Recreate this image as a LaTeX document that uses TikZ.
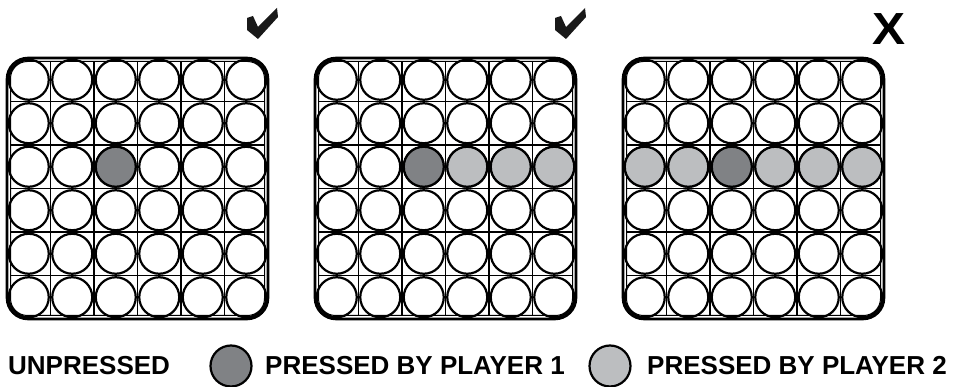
\documentclass[tikz,border=0pt]{standalone}
\usepackage{fontspec}
\setmainfont{Liberation Sans}
\definecolor{pressone}{HTML}{808285}
\definecolor{presstwo}{HTML}{BCBEC0}
\begin{document}
\begin{tikzpicture}[x=1pt, y=-1pt,
  cell/.style={draw=black, line width=2.2pt, fill=white},
  one/.style={cell, fill=pressone},
  two/.style={cell, fill=presstwo},
  legend/.style={font=\bfseries\fontsize{26}{26}\selectfont, anchor=west, inner sep=0pt}]
\useasboundingbox (0,0) rectangle (959,387);
% three boards
\foreach \gx in {7,315,623} {
  \foreach \i in {1,...,5} {
    \draw[line width=1.8pt] (\gx+\i*43.5, 61.5) -- (\gx+\i*43.5, 315.5);
    \draw[line width=1.8pt] (\gx+3.5, 58+\i*43.5) -- (\gx+257.5, 58+\i*43.5);
  }
  \foreach \r in {0,...,5}
    \foreach \c in {0,...,5}
      \draw[cell] (\gx+21.75+\c*43.5, 79.75+\r*43.5) circle (20pt);
  \draw[line width=2.6pt, rounded corners=21pt] (\gx,58) rectangle ++(261,261);
  \draw[line width=1pt, rounded corners=17pt] (\gx+3.5,61.5) rectangle ++(254,254);
}
% pressed buttons
\foreach \gx in {7,315,623}
  \draw[one] (\gx+108.75, 166.75) circle (20pt);
\foreach \c in {3,4,5}
  \draw[two] (315+21.75+\c*43.5, 166.75) circle (20pt);
\foreach \c in {0,1,3,4,5}
  \draw[two] (623+21.75+\c*43.5, 166.75) circle (20pt);
% marks
\foreach \cx in {0,308}
  \fill[black!90, shift={(\cx,0)}] (247,18) -- (253,16) -- (258,27) -- (277,8) -- (278,17) -- (258,39) -- (247,30) -- cycle;
\node[font=\bfseries\fontsize{45}{45}\selectfont, inner sep=0pt, xscale=1.1] (cross) at (889,29) {X};
% legend
\node[legend] (unpressed) at (8,366) {UNPRESSED};
\draw[one] (231,366) circle (20.5pt);
\node[legend] (playerone) at (265,366) {PRESSED BY PLAYER 1};
\draw[two] (610,366) circle (20.5pt);
\node[legend] (playertwo) at (647,366) {PRESSED BY PLAYER 2};
\end{tikzpicture}
\end{document}
